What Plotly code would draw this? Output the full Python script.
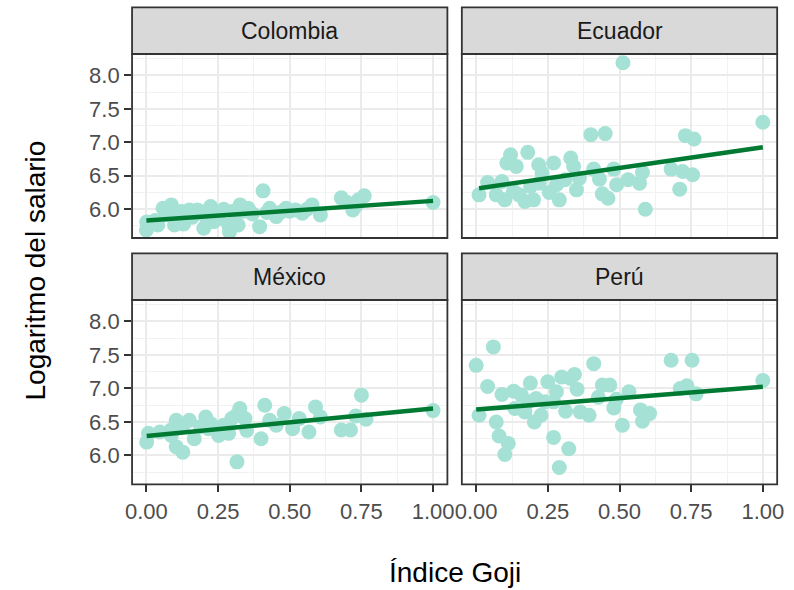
import numpy as np
import plotly.graph_objects as go

countries = ["Colombia", "Ecuador", "México", "Perú"]

col_x = [0.001, 0.0, 0.04, 0.058, 0.087, 0.098, 0.121, 0.15, 0.178, 0.20, 0.224, 0.235,
         0.258, 0.287, 0.29, 0.30, 0.327, 0.32, 0.355, 0.395, 0.407, 0.43, 0.453, 0.487,
         0.52, 0.544, 0.578, 0.607, 0.68, 0.72, 0.74, 0.76, 1.0,
         0.03, 0.07, 0.11, 0.13, 0.16, 0.19, 0.21, 0.25, 0.27, 0.31, 0.34, 0.37, 0.42,
         0.47, 0.50, 0.56, 0.70, 0.73]
col_y = [5.81, 5.69, 5.765, 6.015, 6.065, 5.765, 5.965, 5.99, 5.99, 5.715, 6.04, 5.815,
         5.94, 5.765, 5.665, 5.965, 6.065, 5.765, 6.015, 5.74, 6.275, 6.015, 5.89, 6.015,
         5.99, 5.94, 6.065, 5.915, 6.17, 5.99, 6.14, 6.20, 6.10,
         5.83, 5.92, 5.85, 5.78, 5.88, 5.95, 5.87, 5.86, 6.00, 5.82, 5.97, 5.93, 5.95,
         5.96, 5.97, 6.00, 6.10, 6.05]

ecu_x = [0.512, 1.0, 0.40, 0.45, 0.73, 0.76, 0.01, 0.04, 0.09, 0.07, 0.10, 0.12, 0.107,
         0.14, 0.18, 0.15, 0.17, 0.20, 0.218, 0.23, 0.255, 0.27, 0.29, 0.33, 0.34, 0.31,
         0.35, 0.36, 0.41, 0.43, 0.44, 0.46, 0.48, 0.49, 0.53, 0.57, 0.58, 0.59, 0.68,
         0.71, 0.72, 0.755, 0.19, 0.13, 0.22, 0.28]
ecu_y = [8.19, 7.30, 7.115, 7.13, 7.10, 7.05, 6.215, 6.40, 6.415, 6.215, 6.14, 6.815,
         6.69, 6.64, 6.85, 6.215, 6.115, 6.14, 6.665, 6.54, 6.25, 6.69, 6.14, 6.765,
         6.64, 6.44, 6.29, 6.465, 6.60, 6.45, 6.23, 6.165, 6.60, 6.365, 6.44, 6.39,
         6.55, 6.00, 6.60, 6.30, 6.565, 6.515, 6.34, 6.27, 6.39, 6.365]

mex_x = [0.001, 0.007, 0.047, 0.087, 0.104, 0.104, 0.127, 0.15, 0.167, 0.207, 0.224,
         0.252, 0.287, 0.298, 0.316, 0.326, 0.344, 0.35, 0.40, 0.413, 0.43, 0.453, 0.481,
         0.51, 0.533, 0.567, 0.59, 0.607, 0.68, 0.712, 0.73, 0.75, 0.766, 1.0,
         0.086, 0.126, 0.189, 0.217, 0.269, 0.314]
mex_y = [6.20, 6.33, 6.35, 6.30, 6.525, 6.13, 6.05, 6.525, 6.25, 6.575, 6.475,
         6.30, 6.33, 6.55, 5.905, 6.70, 6.55, 6.375, 6.25, 6.75, 6.525, 6.45, 6.625,
         6.40, 6.55, 6.35, 6.725, 6.575, 6.38, 6.38, 6.59, 6.90, 6.54, 6.67,
         6.38, 6.43, 6.43, 6.40, 6.45, 6.60]

per_x = [0.0, 0.06, 0.04, 0.09, 0.01, 0.07, 0.08, 0.112, 0.10, 0.131, 0.135, 0.158, 0.17,
         0.189, 0.203, 0.209, 0.226, 0.24, 0.25, 0.27, 0.28, 0.29, 0.298, 0.312, 0.323,
         0.329, 0.343, 0.352, 0.363, 0.394, 0.41, 0.426, 0.44, 0.466, 0.48, 0.489, 0.51,
         0.533, 0.573, 0.58, 0.605, 0.68, 0.712, 0.735, 0.753, 0.767, 1.0, 0.18, 0.27]
per_y = [7.345, 7.62, 7.03, 6.91, 6.60, 6.50, 6.29, 6.18, 6.015, 6.96, 6.70, 6.90, 6.65,
         7.08, 6.50, 6.85, 6.60, 6.80, 7.10, 6.27, 6.95, 5.82, 7.17, 6.66, 6.10,
         7.15, 7.21, 6.99, 6.65, 6.60, 7.37, 6.87, 7.05, 7.05, 6.71, 6.84, 6.45,
         6.95, 6.68, 6.51, 6.625, 7.42, 7.00, 7.04, 7.42, 6.92, 7.12, 6.80, 6.80]

# trend lines (intercept, slope)
trend_intercept = [5.83, 6.308, 6.29, 6.685]
trend_slope = [0.295, 0.617, 0.41, 0.34]

x_ticks = [0.0, 0.25, 0.5, 0.75, 1.0]
y_ticks = [6.0, 6.5, 7.0, 7.5, 8.0]

data_x = [col_x, ecu_x, mex_x, per_x]
data_y = [col_y, ecu_y, mex_y, per_y]

W, H = 794, 590
POINT = "#A5E2D5"
LINE = "#007A33"
FONT = "Liberation Sans, Arial, sans-serif"

left_cols = [(127.3, 448.3), (463.0, 784.0)]
rows = [(54.0, 238.0), (300.0, 484.3)]
strip_h = 46.7

fig = go.Figure()
layout = dict(width=W, height=H, margin=dict(l=0, r=0, t=0, b=0),
              paper_bgcolor="white", plot_bgcolor="white", showlegend=False)
shapes = []
annotations = []

for i, name in enumerate(countries):
    r, c = divmod(i, 2)
    ax = "" if i == 0 else str(i + 1)
    xl, xr = left_cols[c]
    yt, yb = rows[r]
    xd = [xl / W, xr / W]
    yd = [1 - yb / H, 1 - yt / H]
    xs = np.array(data_x[i])
    ys = np.array(data_y[i])
    fig.add_trace(go.Scatter(x=xs, y=ys, mode="markers", xaxis="x" + ax, yaxis="y" + ax,
                             marker=dict(size=15, color=POINT, line=dict(width=0)),
                             hoverinfo="skip"))
    lx = np.array([xs.min(), xs.max()])
    ly = trend_intercept[i] + trend_slope[i] * lx
    fig.add_trace(go.Scatter(x=lx, y=ly, mode="lines", xaxis="x" + ax, yaxis="y" + ax,
                             line=dict(color=LINE, width=4.5), hoverinfo="skip"))
    show_x = r == 1
    show_y = c == 0
    layout["xaxis" + ax] = dict(
        domain=xd, anchor="y" + ax, range=[-0.05, 1.05],
        tickvals=x_ticks, ticktext=[f"{v:.2f}" for v in x_ticks],
        showticklabels=show_x, ticks="outside" if show_x else "",
        ticklen=7, tickwidth=1.8, tickcolor="#333333",
        tickfont=dict(family=FONT, size=22, color="#4D4D4D"),
        showgrid=True, gridcolor="#EBEBEB", gridwidth=2, zeroline=False,
        showline=False,
        minor=dict(tickvals=[0.125, 0.375, 0.625, 0.875], showgrid=True,
                   gridcolor="#F2F2F2", gridwidth=1, ticks=""),
    )
    layout["yaxis" + ax] = dict(
        domain=yd, anchor="x" + ax, range=[5.57, 8.32],
        tickvals=y_ticks, ticktext=[f"{v:.1f}" for v in y_ticks],
        showticklabels=show_y, ticks="outside" if show_y else "",
        ticklen=7, tickwidth=1.8, tickcolor="#333333",
        tickfont=dict(family=FONT, size=22, color="#4D4D4D"),
        showgrid=True, gridcolor="#EBEBEB", gridwidth=2, zeroline=False,
        showline=False,
        minor=dict(tickvals=[5.75, 6.25, 6.75, 7.25, 7.75, 8.25], showgrid=True,
                   gridcolor="#F2F2F2", gridwidth=1, ticks=""),
    )
    shapes.append(dict(type="rect", xref="paper", yref="paper",
                       x0=xd[0], x1=xd[1], y0=yd[0], y1=yd[1],
                       line=dict(color="#333333", width=1.8), layer="above"))
    s_top = 1 - (yt - strip_h) / H
    shapes.append(dict(type="rect", xref="paper", yref="paper",
                       x0=xd[0], x1=xd[1], y0=yd[1], y1=s_top,
                       fillcolor="#D9D9D9", line=dict(color="#333333", width=1.8),
                       layer="above"))
    annotations.append(dict(text=name, xref="paper", yref="paper",
                            x=(xd[0] + xd[1]) / 2, y=(yd[1] + s_top) / 2,
                            xanchor="center", yanchor="middle", showarrow=False,
                            font=dict(family=FONT, size=23, color="#1A1A1A")))

annotations.append(dict(text="Índice Goji", xref="paper", yref="paper",
                        x=(127.3 + 784) / 2 / W, y=1 - 572 / H,
                        xanchor="center", yanchor="middle", showarrow=False,
                        font=dict(family=FONT, size=28, color="black")))
annotations.append(dict(text="Logaritmo del salario", xref="paper", yref="paper",
                        x=28 / W, y=1 - 271 / H, textangle=-90,
                        xanchor="center", yanchor="middle", showarrow=False,
                        font=dict(family=FONT, size=28, color="black")))

layout["shapes"] = shapes
layout["annotations"] = annotations
fig.update_layout(**layout)
fig.write_html("out.html", config={"displayModeBar": False},
               post_script="document.body.style.margin='0';")
